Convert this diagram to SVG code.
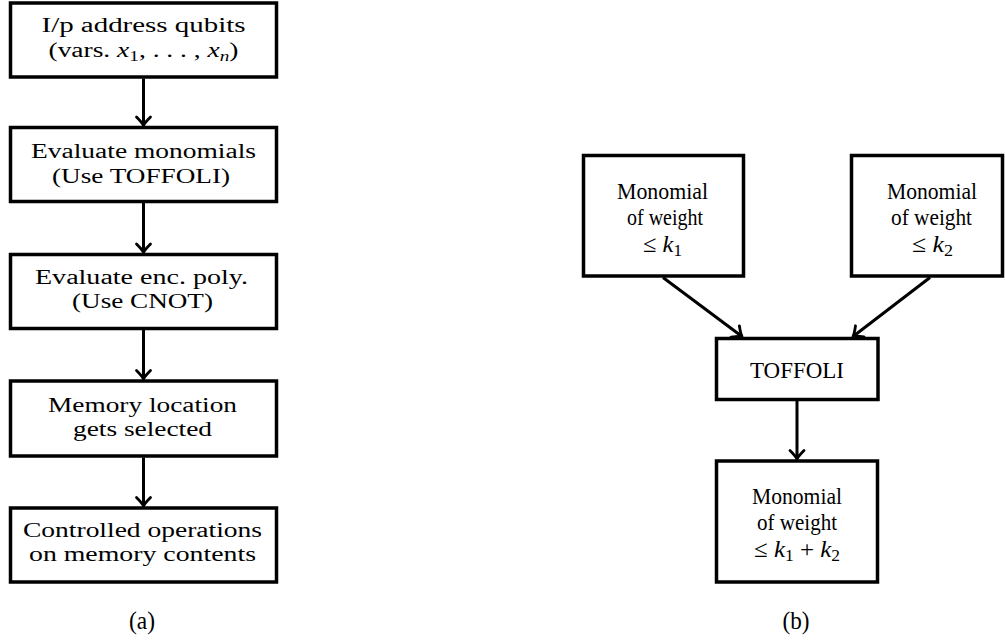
<svg xmlns="http://www.w3.org/2000/svg" width="1005" height="643" viewBox="0 0 1005 643">
<style>
  .box { fill: #ffffff; stroke: #000000; stroke-width: 3.5; }
  .tl { font-family: "Liberation Serif", "Times New Roman", serif; font-size: 20px; fill: #000000; text-anchor: middle; }
  .tr { font-family: "Liberation Serif", "Times New Roman", serif; font-size: 24px; fill: #000000; text-anchor: middle; }
  .cap { font-family: "Liberation Serif", "Times New Roman", serif; font-size: 25px; fill: #000000; text-anchor: middle; }
  .it { font-style: italic; }
  .sub { font-size: 70%; }
  .edge { stroke: #000000; stroke-width: 3; fill: none; }
</style>
<defs>
  <marker id="arr" markerUnits="userSpaceOnUse" viewBox="-12 -10 14 20" refX="0" refY="0" markerWidth="14" markerHeight="20" orient="auto">
    <path d="M-8.5,-7 Q-3,-1.5 0,0 Q-3,1.5 -8.5,7" fill="none" stroke="#000000" stroke-width="2.8" stroke-linecap="round" stroke-linejoin="round"/>
  </marker>
</defs>
<rect width="1005" height="643" fill="#ffffff"/>

<!-- Panel (a) -->
<g id="a1">
  <rect class="box" x="10.5" y="3" width="266" height="74"/>
  <text class="tl" x="143.5" y="32" textLength="204" lengthAdjust="spacingAndGlyphs">I/p address qubits</text>
  <text class="tl" x="143.5" y="57" textLength="190" lengthAdjust="spacingAndGlyphs">(vars.  <tspan class="it">x</tspan><tspan class="sub" dy="4">1</tspan><tspan dy="-4">, . . . , </tspan><tspan class="it">x</tspan><tspan class="sub it" dy="4">n</tspan><tspan dy="-4">)</tspan></text>
</g>
<g id="a2">
  <rect class="box" x="10.5" y="127.5" width="266" height="74"/>
  <text class="tl" x="143.5" y="158" textLength="225" lengthAdjust="spacingAndGlyphs">Evaluate monomials</text>
  <text class="tl" x="141" y="183" textLength="178" lengthAdjust="spacingAndGlyphs">(Use TOFFOLI)</text>
</g>
<g id="a3">
  <rect class="box" x="10.5" y="254.5" width="266" height="74"/>
  <text class="tl" x="141.5" y="284" textLength="213" lengthAdjust="spacingAndGlyphs">Evaluate enc. poly.</text>
  <text class="tl" x="142.5" y="308" textLength="141" lengthAdjust="spacingAndGlyphs">(Use CNOT)</text>
</g>
<g id="a4">
  <rect class="box" x="10.5" y="381" width="266" height="75"/>
  <text class="tl" x="142.5" y="412" textLength="189" lengthAdjust="spacingAndGlyphs">Memory location</text>
  <text class="tl" x="142.5" y="436" textLength="139" lengthAdjust="spacingAndGlyphs">gets selected</text>
</g>
<g id="a5">
  <rect class="box" x="10.5" y="508" width="266" height="74"/>
  <text class="tl" x="142.5" y="537" textLength="239" lengthAdjust="spacingAndGlyphs">Controlled operations</text>
  <text class="tl" x="142.5" y="561" textLength="227" lengthAdjust="spacingAndGlyphs">on memory contents</text>
</g>

<!-- Panel (b) -->
<g id="b1">
  <rect class="box" x="583.5" y="155.5" width="160" height="120.5"/>
  <text class="tr" x="662.5" y="199" textLength="91" lengthAdjust="spacingAndGlyphs">Monomial</text>
  <text class="tr" x="665" y="225" textLength="76" lengthAdjust="spacingAndGlyphs">of weight</text>
  <text class="tr" x="662.5" y="252" textLength="39" lengthAdjust="spacingAndGlyphs">≤ <tspan class="it">k</tspan><tspan class="sub" dy="4">1</tspan></text>
</g>
<g id="b2">
  <rect class="box" x="851.5" y="155.5" width="151" height="120.5"/>
  <text class="tr" x="932" y="199" textLength="90" lengthAdjust="spacingAndGlyphs">Monomial</text>
  <text class="tr" x="931.5" y="225" textLength="81" lengthAdjust="spacingAndGlyphs">of weight</text>
  <text class="tr" x="932.5" y="252" textLength="41" lengthAdjust="spacingAndGlyphs">≤ <tspan class="it">k</tspan><tspan class="sub" dy="4">2</tspan></text>
</g>
<g id="b3">
  <rect class="box" x="716.5" y="338.5" width="161.5" height="61"/>
  <text class="tr" x="797" y="378" textLength="94" lengthAdjust="spacingAndGlyphs">TOFFOLI</text>
</g>
<g id="b4">
  <rect class="box" x="716.5" y="461" width="161" height="121"/>
  <text class="tr" x="797" y="504" textLength="90" lengthAdjust="spacingAndGlyphs">Monomial</text>
  <text class="tr" x="797" y="530" textLength="80" lengthAdjust="spacingAndGlyphs">of weight</text>
  <text class="tr" x="797" y="557" textLength="86" lengthAdjust="spacingAndGlyphs">≤ <tspan class="it">k</tspan><tspan class="sub" dy="4">1</tspan><tspan dy="-4"> + </tspan><tspan class="it">k</tspan><tspan class="sub" dy="4">2</tspan></text>
</g>

<!-- Captions -->
<g id="captions">
  <text class="cap" x="142" y="629" textLength="26" lengthAdjust="spacingAndGlyphs">(a)</text>
  <text class="cap" x="796" y="629" textLength="27" lengthAdjust="spacingAndGlyphs">(b)</text>
</g>

<!-- Connectors -->
<g id="connectors">
  <line class="edge" x1="143.5" y1="78.5" x2="143.5" y2="125.5" marker-end="url(#arr)"/>
  <line class="edge" x1="143.5" y1="203" x2="143.5" y2="252.5" marker-end="url(#arr)"/>
  <line class="edge" x1="143.5" y1="330" x2="143.5" y2="379" marker-end="url(#arr)"/>
  <line class="edge" x1="143.5" y1="457.5" x2="143.5" y2="506" marker-end="url(#arr)"/>
  <line class="edge" x1="663" y1="277.5" x2="742" y2="336.5" marker-end="url(#arr)"/>
  <line class="edge" x1="930" y1="277.5" x2="853" y2="336.5" marker-end="url(#arr)"/>
  <line class="edge" x1="797" y1="401" x2="797" y2="459" marker-end="url(#arr)"/>
</g>
</svg>
